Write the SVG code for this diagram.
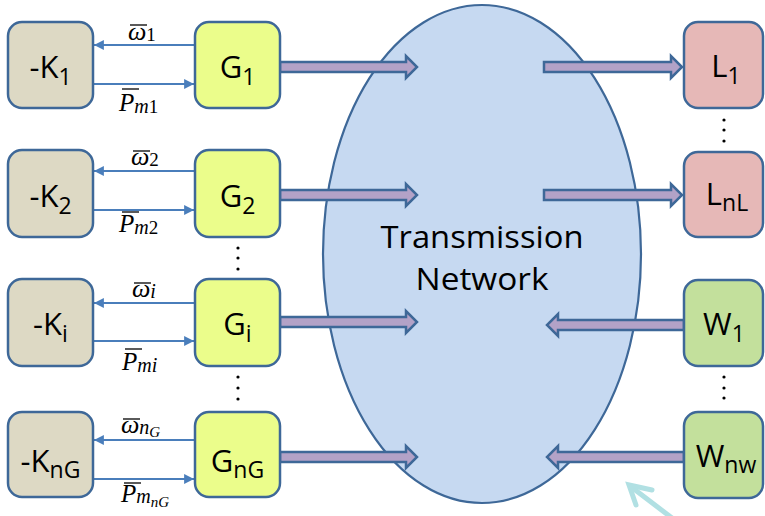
<svg xmlns="http://www.w3.org/2000/svg" width="765" height="516" viewBox="0 0 765 516">
<style>
.box{stroke:#3e6898;stroke-width:2.5}
.k{fill:#ddd9c4}.g{fill:#ebfd8b}.l{fill:#e6b8b7}.w{fill:#c3e09c}
.t{font-family:"Open Sans","Noto Sans",sans-serif;font-size:31px;fill:#000}
.s{font-size:23px}
.m{font-family:"Liberation Serif","DejaVu Serif",serif;font-style:italic;font-size:25px;fill:#000}
.o{font-size:26px}
.d{font-style:normal;font-size:19px}
.mi{font-size:20px}
.mii{font-size:15px}
.ov{stroke:#000;stroke-width:1.3}
.thin{stroke:#4a7ebb;stroke-width:2.2;fill:none}
.fat{fill:#b3a2c7;stroke:#3e6898;stroke-width:2.5;stroke-linejoin:miter}
.dot{fill:#000}
</style>
<defs>
<marker id="ah" viewBox="0 0 10 10" refX="10" refY="5" markerWidth="5" markerHeight="4.5" orient="auto" markerUnits="strokeWidth">
<path d="M0,0 L10,5 L0,10 z" fill="#4a7ebb"/>
</marker>
</defs>

<g id="network">
<ellipse cx="482" cy="254" rx="159" ry="249" fill="#c6d9f1" stroke="#3e6898" stroke-width="2.2"/>
<text class="t" x="482" y="248" text-anchor="middle" font-size="34" textLength="203" lengthAdjust="spacingAndGlyphs">Transmission</text>
<text class="t" x="482" y="290" text-anchor="middle" font-size="34" textLength="133" lengthAdjust="spacingAndGlyphs">Network</text>
</g>

<g id="connectors">
<line class="thin" x1="195" y1="45" x2="94" y2="45" marker-end="url(#ah)"/>
<line class="thin" x1="93" y1="84" x2="194" y2="84" marker-end="url(#ah)"/>
<line class="thin" x1="195" y1="171" x2="94" y2="171" marker-end="url(#ah)"/>
<line class="thin" x1="93" y1="210" x2="194" y2="210" marker-end="url(#ah)"/>
<line class="thin" x1="195" y1="303" x2="94" y2="303" marker-end="url(#ah)"/>
<line class="thin" x1="93" y1="341" x2="194" y2="341" marker-end="url(#ah)"/>
<line class="thin" x1="195" y1="440" x2="94" y2="440" marker-end="url(#ah)"/>
<line class="thin" x1="93" y1="479" x2="194" y2="479" marker-end="url(#ah)"/>

<polygon class="fat" points="280,62 406,62 406,56 417,67 406,78 406,72 280,72"/>
<polygon class="fat" points="280,190 406,190 406,184 417,195 406,206 406,200 280,200"/>
<polygon class="fat" points="280,317 406,317 406,311 417,322 406,333 406,327 280,327"/>
<polygon class="fat" points="280,452 406,452 406,446 417,457 406,468 406,462 280,462"/>
<polygon class="fat" points="544,62 671,62 671,56 682,67 671,78 671,72 544,72"/>
<polygon class="fat" points="544,190 671,190 671,184 682,195 671,206 671,200 544,200"/>
<polygon class="fat" points="684,320 558,320 558,314 547,325 558,336 558,330 684,330"/>
<polygon class="fat" points="684,452 558,452 558,446 547,457 558,468 558,462 684,462"/>

<text class="m o" x="128" y="40">ω<tspan class="d" dy="1">1</tspan></text>
<line class="ov" x1="130" y1="25" x2="147" y2="25"/>
<text class="m" x="119" y="111">P<tspan class="mi" dy="2">m</tspan><tspan class="d">1</tspan></text>
<line class="ov" x1="122" y1="89" x2="139" y2="89"/>

<text class="m o" x="131" y="165">ω<tspan class="d" dy="1">2</tspan></text>
<line class="ov" x1="133" y1="151" x2="150" y2="151"/>
<text class="m" x="119" y="232">P<tspan class="mi" dy="2">m</tspan><tspan class="d">2</tspan></text>
<line class="ov" x1="122" y1="212" x2="139" y2="212"/>

<text class="m o" x="132" y="297">ω<tspan class="mi" dy="1">i</tspan></text>
<line class="ov" x1="134" y1="283" x2="151" y2="283"/>
<text class="m" x="122" y="370">P<tspan class="mi" dy="2">mi</tspan></text>
<line class="ov" x1="125" y1="349" x2="142" y2="349"/>

<text class="m o" x="121" y="433">ω<tspan class="mi" dy="1">n</tspan><tspan class="mii" dy="3">G</tspan></text>
<line class="ov" x1="123" y1="419" x2="140" y2="419"/>
<text class="m" x="121" y="502">P<tspan class="mi" dy="1">m</tspan><tspan class="mii" dy="4">nG</tspan></text>
<line class="ov" x1="124" y1="483" x2="141" y2="483"/>

<g stroke="#a9dde0" stroke-width="5" fill="none" stroke-linecap="round" opacity="0.9">
<line x1="672" y1="518" x2="630" y2="486"/>
<polyline points="652,490 629,485 636,505"/>
</g>
</g>

<g id="K1"><rect class="box k" x="8" y="22" width="85" height="86" rx="14"/><text class="t" x="50.5" y="78" text-anchor="middle">-K<tspan class="s" dy="7">1</tspan></text></g>
<g id="K2"><rect class="box k" x="8" y="150" width="85" height="87" rx="14"/><text class="t" x="50.5" y="207" text-anchor="middle">-K<tspan class="s" dy="7">2</tspan></text></g>
<g id="Ki"><rect class="box k" x="8" y="279" width="85" height="87" rx="14"/><text class="t" x="50.5" y="335" text-anchor="middle">-K<tspan class="s" dy="7">i</tspan></text></g>
<g id="KnG"><rect class="box k" x="8" y="412" width="85" height="85" rx="14"/><text class="t" x="50.5" y="472" text-anchor="middle">-K<tspan class="s" dy="6">nG</tspan></text></g>

<g id="G1"><rect class="box g" x="195" y="22" width="85" height="86" rx="14"/><text class="t" x="237.5" y="78" text-anchor="middle">G<tspan class="s" dy="7">1</tspan></text></g>
<g id="G2"><rect class="box g" x="195" y="150" width="85" height="87" rx="14"/><text class="t" x="237.5" y="207" text-anchor="middle">G<tspan class="s" dy="7">2</tspan></text></g>
<g id="Gi"><rect class="box g" x="195" y="279" width="85" height="87" rx="14"/><text class="t" x="237.5" y="335" text-anchor="middle">G<tspan class="s" dy="7">i</tspan></text></g>
<g id="GnG"><rect class="box g" x="195" y="412" width="85" height="85" rx="14"/><text class="t" x="237.5" y="472" text-anchor="middle">G<tspan class="s" dy="6">nG</tspan></text></g>

<g id="L1"><rect class="box l" x="684" y="22" width="79" height="86" rx="14"/><text class="t" x="726" y="77" text-anchor="middle">L<tspan class="s" dy="7">1</tspan></text></g>
<g id="LnL"><rect class="box l" x="684" y="152" width="79" height="85" rx="14"/><text class="t" x="727" y="205" text-anchor="middle">L<tspan class="s" dy="6">nL</tspan></text></g>
<g id="W1"><rect class="box w" x="684" y="280" width="79" height="86" rx="14"/><text class="t" x="724" y="335" text-anchor="middle">W<tspan class="s" dy="7">1</tspan></text></g>
<g id="Wnw"><rect class="box w" x="684" y="412" width="79" height="86" rx="14"/><text class="t" x="726" y="467" text-anchor="middle">W<tspan class="s" dy="6">nw</tspan></text></g>

<g id="dots">
<circle class="dot" cx="238" cy="248" r="1.6"/><circle class="dot" cx="238" cy="258" r="1.6"/><circle class="dot" cx="238" cy="269" r="1.6"/>
<circle class="dot" cx="238" cy="377" r="1.6"/><circle class="dot" cx="238" cy="388" r="1.6"/><circle class="dot" cx="238" cy="399" r="1.6"/>
<circle class="dot" cx="724" cy="120" r="1.6"/><circle class="dot" cx="724" cy="130" r="1.6"/><circle class="dot" cx="724" cy="141" r="1.6"/>
<circle class="dot" cx="724" cy="377" r="1.6"/><circle class="dot" cx="724" cy="388" r="1.6"/><circle class="dot" cx="724" cy="398" r="1.6"/>
</g>
</svg>
